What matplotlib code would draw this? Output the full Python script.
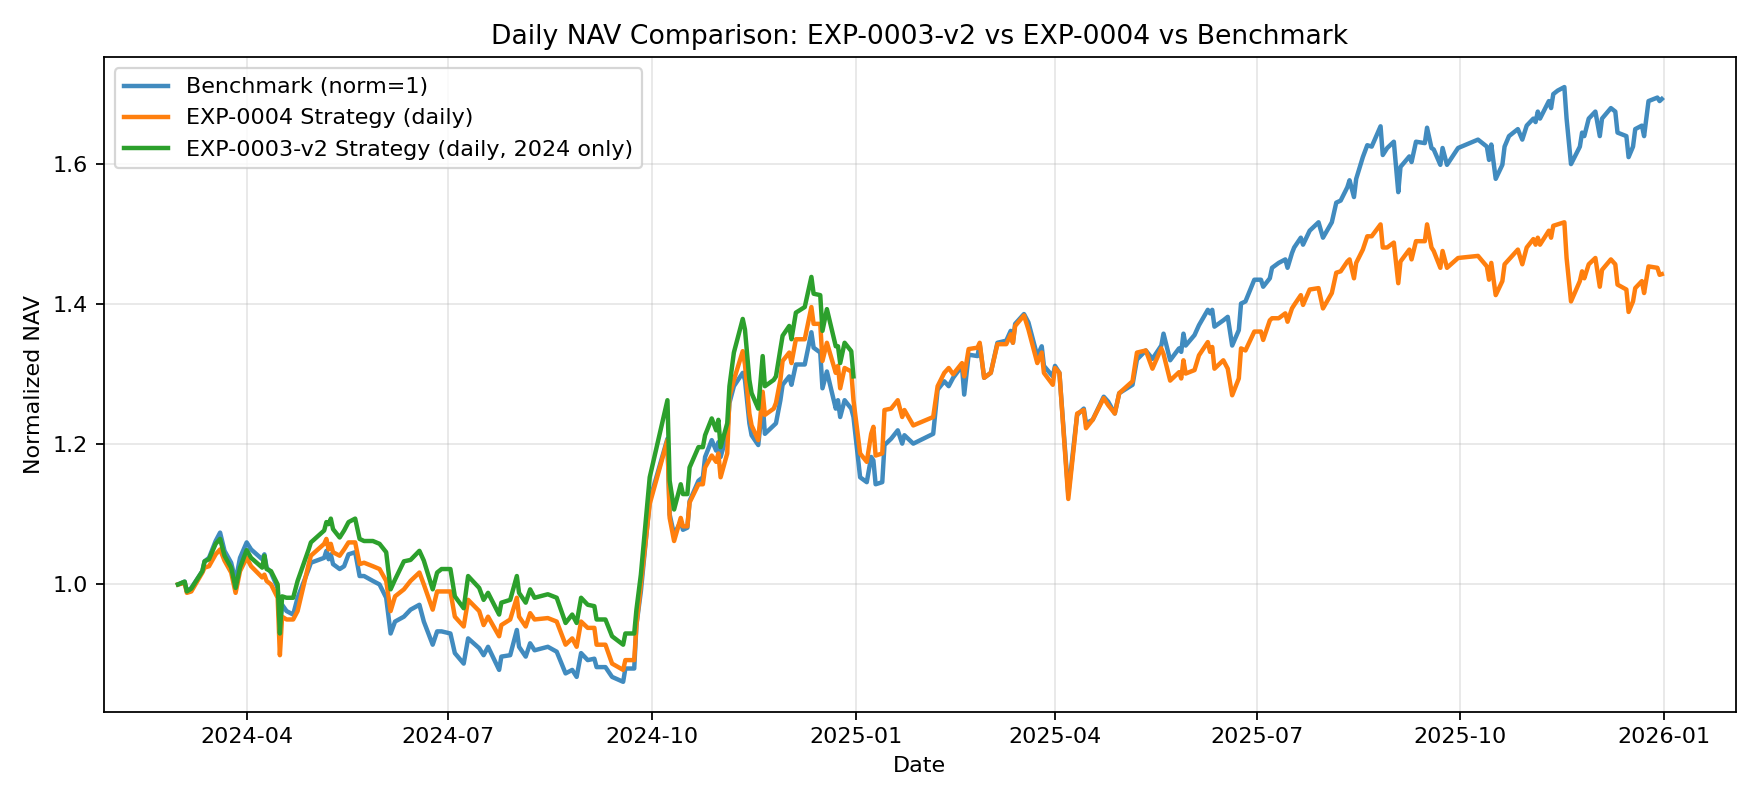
import matplotlib
matplotlib.use("Agg")
from matplotlib import pyplot as plt
import matplotlib.dates as mdates
import pandas as pd

# values (2024 part: all three series)
dates_2024 = ["2024-03-01", "2024-03-04", "2024-03-05", "2024-03-07", "2024-03-12", "2024-03-13",
              "2024-03-15", "2024-03-18", "2024-03-20", "2024-03-22", "2024-03-25", "2024-03-27",
              "2024-03-29", "2024-04-01", "2024-04-03", "2024-04-08", "2024-04-09", "2024-04-10",
              "2024-04-12", "2024-04-15", "2024-04-16", "2024-04-17", "2024-04-19", "2024-04-22",
              "2024-04-24", "2024-04-29", "2024-04-30", "2024-05-06", "2024-05-07", "2024-05-08",
              "2024-05-09", "2024-05-10", "2024-05-13", "2024-05-15", "2024-05-17", "2024-05-20",
              "2024-05-22", "2024-05-24", "2024-05-28", "2024-05-31", "2024-06-03", "2024-06-05",
              "2024-06-07", "2024-06-11", "2024-06-14", "2024-06-18", "2024-06-20", "2024-06-24",
              "2024-06-26", "2024-06-28", "2024-07-02", "2024-07-04", "2024-07-08", "2024-07-10",
              "2024-07-15", "2024-07-17", "2024-07-19", "2024-07-24", "2024-07-25", "2024-07-29",
              "2024-08-01", "2024-08-02", "2024-08-05", "2024-08-07", "2024-08-09", "2024-08-15",
              "2024-08-19", "2024-08-23", "2024-08-26", "2024-08-28", "2024-08-30", "2024-09-02",
              "2024-09-05", "2024-09-06", "2024-09-10", "2024-09-13", "2024-09-18", "2024-09-19",
              "2024-09-23", "2024-09-24", "2024-09-26", "2024-09-30", "2024-10-08", "2024-10-09",
              "2024-10-11", "2024-10-14", "2024-10-15", "2024-10-17", "2024-10-18", "2024-10-22",
              "2024-10-24", "2024-10-25", "2024-10-28", "2024-10-30", "2024-10-31", "2024-11-01",
              "2024-11-04", "2024-11-05", "2024-11-07", "2024-11-11", "2024-11-12", "2024-11-14",
              "2024-11-15", "2024-11-18", "2024-11-20", "2024-11-21", "2024-11-25", "2024-11-26",
              "2024-11-28", "2024-11-29", "2024-12-02", "2024-12-03", "2024-12-05", "2024-12-09",
              "2024-12-12", "2024-12-13", "2024-12-16", "2024-12-17", "2024-12-19", "2024-12-23",
              "2024-12-24", "2024-12-25", "2024-12-27", "2024-12-30", "2024-12-31"]

bench_2024 = [1.000, 1.004, 0.990, 0.995, 1.019, 1.033, 1.038, 1.062, 1.074, 1.048, 1.031, 1.005,
              1.038, 1.060, 1.050, 1.036, 1.043, 1.024, 1.017, 0.995, 0.935, 0.971, 0.962, 0.957,
              0.981, 1.022, 1.031, 1.038, 1.048, 1.036, 1.043, 1.029, 1.022, 1.026, 1.043, 1.046,
              1.012, 1.012, 1.005, 1.000, 0.981, 0.930, 0.947, 0.954, 0.964, 0.971, 0.947, 0.914,
              0.933, 0.933, 0.930, 0.902, 0.887, 0.923, 0.909, 0.899, 0.911, 0.878, 0.897, 0.899,
              0.935, 0.911, 0.897, 0.916, 0.906, 0.911, 0.904, 0.873, 0.878, 0.868, 0.902, 0.892,
              0.894, 0.882, 0.882, 0.868, 0.861, 0.880, 0.880, 0.942, 0.990, 1.120, 1.208, 1.100,
              1.071, 1.090, 1.078, 1.081, 1.119, 1.148, 1.153, 1.182, 1.206, 1.191, 1.203, 1.182,
              1.215, 1.259, 1.283, 1.302, 1.292, 1.230, 1.213, 1.199, 1.259, 1.215, 1.227, 1.230,
              1.263, 1.285, 1.297, 1.285, 1.314, 1.314, 1.360, 1.338, 1.331, 1.280, 1.304, 1.251,
              1.263, 1.239, 1.263, 1.251, 1.239]

exp4_2024 = [1.000, 1.002, 0.988, 0.990, 1.017, 1.024, 1.026, 1.043, 1.050, 1.034, 1.017, 0.988,
             1.019, 1.038, 1.026, 1.010, 1.014, 1.005, 1.000, 0.981, 0.899, 0.954, 0.950, 0.950,
             0.962, 1.029, 1.041, 1.058, 1.065, 1.050, 1.058, 1.046, 1.041, 1.050, 1.060, 1.060,
             1.029, 1.031, 1.026, 1.022, 1.005, 0.962, 0.983, 0.993, 1.005, 1.017, 1.000, 0.964,
             0.990, 0.990, 0.990, 0.954, 0.940, 0.978, 0.962, 0.942, 0.954, 0.926, 0.942, 0.950,
             0.981, 0.954, 0.940, 0.959, 0.950, 0.952, 0.947, 0.914, 0.923, 0.911, 0.947, 0.938,
             0.938, 0.914, 0.914, 0.887, 0.878, 0.892, 0.892, 0.942, 1.000, 1.115, 1.206, 1.095,
             1.062, 1.095, 1.083, 1.083, 1.117, 1.143, 1.143, 1.167, 1.184, 1.175, 1.187, 1.153,
             1.187, 1.268, 1.292, 1.333, 1.314, 1.244, 1.227, 1.206, 1.275, 1.242, 1.251, 1.259,
             1.292, 1.319, 1.331, 1.316, 1.350, 1.350, 1.396, 1.372, 1.372, 1.319, 1.345, 1.302,
             1.312, 1.280, 1.309, 1.304, 1.263]

exp3_2024 = [1.000, 1.004, 0.990, 0.994, 1.019, 1.033, 1.036, 1.058, 1.065, 1.041, 1.024, 0.995,
             1.024, 1.049, 1.038, 1.024, 1.041, 1.022, 1.019, 1.000, 0.930, 0.983, 0.981, 0.981,
             1.005, 1.050, 1.060, 1.077, 1.089, 1.086, 1.094, 1.079, 1.067, 1.077, 1.089, 1.094,
             1.065, 1.062, 1.062, 1.058, 1.046, 0.993, 1.007, 1.033, 1.035, 1.048, 1.034, 0.993,
             1.017, 1.022, 1.022, 0.983, 0.966, 1.012, 0.995, 0.978, 0.988, 0.957, 0.974, 0.978,
             1.012, 0.988, 0.974, 0.993, 0.981, 0.986, 0.981, 0.945, 0.957, 0.945, 0.981, 0.971,
             0.969, 0.950, 0.950, 0.926, 0.914, 0.930, 0.930, 0.964, 1.014, 1.153, 1.263, 1.148,
             1.107, 1.143, 1.129, 1.129, 1.167, 1.196, 1.196, 1.213, 1.237, 1.220, 1.235, 1.196,
             1.230, 1.283, 1.331, 1.379, 1.364, 1.292, 1.273, 1.251, 1.326, 1.283, 1.292, 1.297,
             1.336, 1.355, 1.369, 1.350, 1.388, 1.396, 1.439, 1.415, 1.413, 1.362, 1.393, 1.340,
             1.340, 1.316, 1.345, 1.333, 1.297]

# 2025 part: benchmark and EXP-0004 only
dates_2025 = ["2025-01-03", "2025-01-06", "2025-01-08", "2025-01-09", "2025-01-10", "2025-01-13",
              "2025-01-14", "2025-01-17", "2025-01-20", "2025-01-22", "2025-01-23", "2025-01-27",
              "2025-02-05", "2025-02-07", "2025-02-10", "2025-02-12", "2025-02-14", "2025-02-18",
              "2025-02-19", "2025-02-21", "2025-02-25", "2025-02-26", "2025-02-28", "2025-03-03",
              "2025-03-06", "2025-03-10", "2025-03-12", "2025-03-13", "2025-03-14", "2025-03-18",
              "2025-03-20", "2025-03-24", "2025-03-26", "2025-03-27", "2025-03-31", "2025-04-01",
              "2025-04-03", "2025-04-07", "2025-04-10", "2025-04-11", "2025-04-14", "2025-04-15",
              "2025-04-18", "2025-04-23", "2025-04-25", "2025-04-28", "2025-04-30", "2025-05-06",
              "2025-05-08", "2025-05-12", "2025-05-15", "2025-05-19", "2025-05-20", "2025-05-23",
              "2025-05-27", "2025-05-28", "2025-05-29", "2025-05-30", "2025-06-03", "2025-06-05",
              "2025-06-09", "2025-06-10", "2025-06-11", "2025-06-12", "2025-06-16", "2025-06-18",
              "2025-06-20", "2025-06-23", "2025-06-24", "2025-06-26", "2025-06-30", "2025-07-03",
              "2025-07-04", "2025-07-07", "2025-07-08", "2025-07-11", "2025-07-14", "2025-07-15",
              "2025-07-17", "2025-07-18", "2025-07-21", "2025-07-22", "2025-07-25", "2025-07-29",
              "2025-07-31", "2025-08-04", "2025-08-06", "2025-08-08", "2025-08-11", "2025-08-12",
              "2025-08-14", "2025-08-15", "2025-08-18", "2025-08-20", "2025-08-22", "2025-08-26",
              "2025-08-27", "2025-08-29", "2025-09-01", "2025-09-03", "2025-09-04", "2025-09-08",
              "2025-09-09", "2025-09-11", "2025-09-15", "2025-09-16", "2025-09-18", "2025-09-19",
              "2025-09-22", "2025-09-23", "2025-09-25", "2025-09-30", "2025-10-09", "2025-10-13",
              "2025-10-14", "2025-10-15", "2025-10-17", "2025-10-20", "2025-10-21", "2025-10-23",
              "2025-10-27", "2025-10-29", "2025-10-31", "2025-11-03", "2025-11-04", "2025-11-05",
              "2025-11-06", "2025-11-10", "2025-11-11", "2025-11-12", "2025-11-14", "2025-11-17",
              "2025-11-18", "2025-11-20", "2025-11-24", "2025-11-25", "2025-11-26", "2025-11-28",
              "2025-12-01", "2025-12-03", "2025-12-04", "2025-12-08", "2025-12-10", "2025-12-11",
              "2025-12-15", "2025-12-16", "2025-12-18", "2025-12-19", "2025-12-22", "2025-12-23",
              "2025-12-25", "2025-12-29", "2025-12-30", "2025-12-31"]

bench_2025 = [1.153, 1.146, 1.182, 1.177, 1.143, 1.146, 1.199, 1.208, 1.220, 1.201, 1.213, 1.201,
              1.215, 1.278, 1.290, 1.283, 1.295, 1.312, 1.271, 1.328, 1.326, 1.343, 1.295, 1.302,
              1.345, 1.348, 1.362, 1.345, 1.372, 1.386, 1.374, 1.326, 1.340, 1.312, 1.297, 1.312,
              1.302, 1.129, 1.215, 1.242, 1.251, 1.230, 1.235, 1.268, 1.261, 1.244, 1.273, 1.285,
              1.321, 1.334, 1.322, 1.341, 1.358, 1.320, 1.337, 1.332, 1.358, 1.341, 1.356, 1.370,
              1.392, 1.387, 1.392, 1.368, 1.377, 1.382, 1.341, 1.363, 1.401, 1.404, 1.435, 1.435,
              1.425, 1.437, 1.452, 1.459, 1.464, 1.452, 1.473, 1.481, 1.495, 1.485, 1.505, 1.517,
              1.495, 1.517, 1.545, 1.548, 1.567, 1.577, 1.553, 1.579, 1.610, 1.627, 1.625, 1.654,
              1.613, 1.623, 1.632, 1.560, 1.596, 1.611, 1.603, 1.632, 1.630, 1.652, 1.623, 1.621,
              1.599, 1.623, 1.599, 1.623, 1.635, 1.625, 1.606, 1.628, 1.579, 1.599, 1.625, 1.640,
              1.650, 1.635, 1.655, 1.665, 1.660, 1.675, 1.665, 1.690, 1.680, 1.700, 1.705, 1.710,
              1.665, 1.600, 1.625, 1.645, 1.640, 1.665, 1.675, 1.640, 1.665, 1.680, 1.675, 1.645,
              1.640, 1.610, 1.625, 1.650, 1.655, 1.640, 1.690, 1.695, 1.690, 1.693]

exp4_2025 = [1.187, 1.175, 1.215, 1.225, 1.184, 1.187, 1.249, 1.251, 1.263, 1.239, 1.249, 1.227,
             1.239, 1.283, 1.302, 1.309, 1.300, 1.316, 1.297, 1.336, 1.338, 1.345, 1.295, 1.302,
             1.343, 1.343, 1.357, 1.345, 1.369, 1.384, 1.364, 1.316, 1.331, 1.302, 1.285, 1.309,
             1.302, 1.122, 1.211, 1.244, 1.249, 1.223, 1.235, 1.266, 1.256, 1.244, 1.273, 1.290,
             1.331, 1.334, 1.308, 1.337, 1.329, 1.291, 1.303, 1.294, 1.320, 1.301, 1.306, 1.327,
             1.346, 1.332, 1.339, 1.308, 1.320, 1.308, 1.270, 1.294, 1.337, 1.334, 1.361, 1.361,
             1.349, 1.377, 1.380, 1.380, 1.387, 1.375, 1.394, 1.399, 1.413, 1.399, 1.421, 1.423,
             1.394, 1.416, 1.445, 1.447, 1.461, 1.464, 1.437, 1.459, 1.478, 1.497, 1.497, 1.514,
             1.481, 1.481, 1.488, 1.430, 1.461, 1.478, 1.464, 1.490, 1.490, 1.514, 1.481, 1.476,
             1.452, 1.476, 1.452, 1.466, 1.469, 1.454, 1.435, 1.459, 1.413, 1.433, 1.457, 1.464,
             1.478, 1.457, 1.481, 1.493, 1.485, 1.495, 1.485, 1.505, 1.495, 1.512, 1.514, 1.517,
             1.466, 1.404, 1.433, 1.447, 1.437, 1.457, 1.466, 1.425, 1.449, 1.464, 1.457, 1.428,
             1.421, 1.389, 1.404, 1.423, 1.433, 1.416, 1.454, 1.452, 1.442, 1.443]

all_dates = pd.to_datetime(dates_2024 + dates_2025)
bench = bench_2024 + bench_2025
exp4 = exp4_2024 + exp4_2025
exp3_dates = pd.to_datetime(dates_2024)

fig, ax = plt.subplots(figsize=(11, 5), dpi=160)

ax.plot(all_dates, bench, '-', label="Benchmark (norm=1)", color='tab:blue', linewidth=2, alpha=0.85)
ax.plot(all_dates, exp4, '-', label="EXP-0004 Strategy (daily)", color='tab:orange', linewidth=2)
ax.plot(exp3_dates, exp3_2024, '-', label="EXP-0003-v2 Strategy (daily, 2024 only)", color='tab:green', linewidth=2)

ax.set_title("Daily NAV Comparison: EXP-0003-v2 vs EXP-0004 vs Benchmark")
ax.set_xlabel("Date")
ax.set_ylabel("Normalized NAV")
ax.xaxis.set_major_locator(mdates.MonthLocator(bymonth=[1, 4, 7, 10]))
ax.xaxis.set_major_formatter(mdates.DateFormatter("%Y-%m"))
ax.grid(True, alpha=0.3)
ax.legend(loc="upper left")

plt.tight_layout()
plt.savefig("out.png")
